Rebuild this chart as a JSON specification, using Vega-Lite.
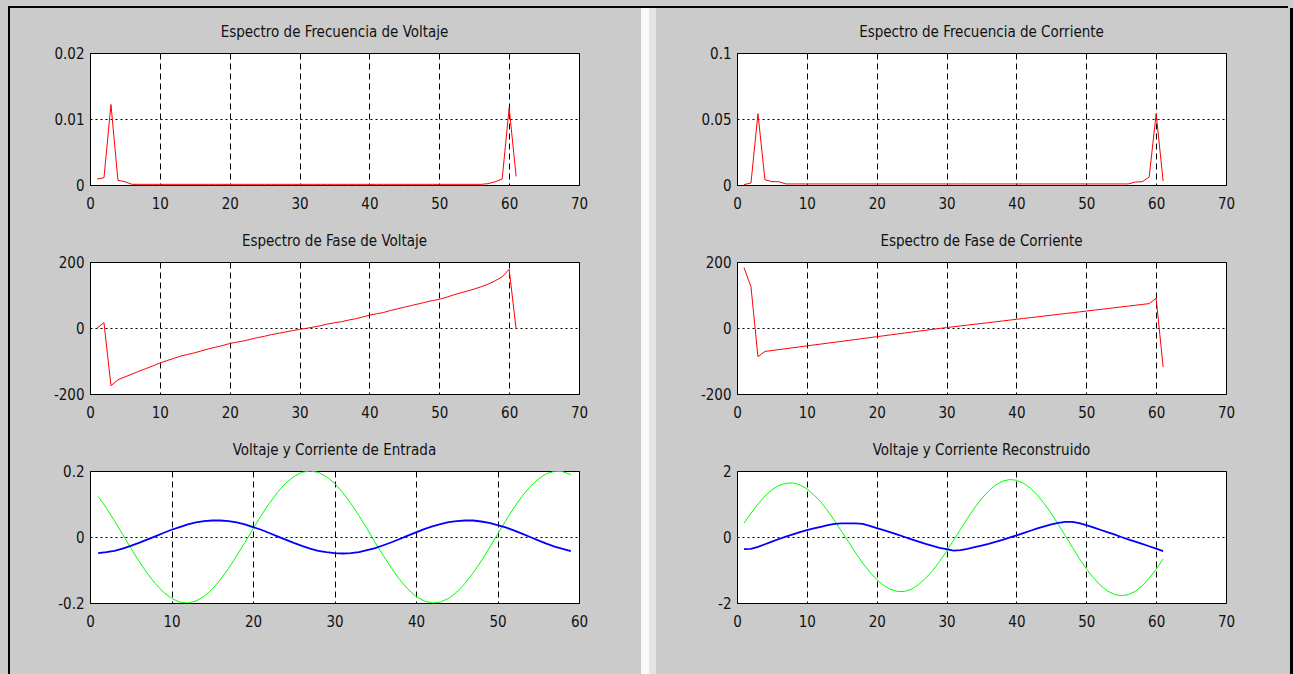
{
  "$schema": "https://vega.github.io/schema/vega-lite/v6.json",
  "background": "#CBCBCB",
  "padding": {"left": 8, "top": 6, "right": 5, "bottom": 0},
  "autosize": {"type": "pad"},
  "config": {
    "font": "DejaVu Sans Condensed, Liberation Sans, sans-serif",
    "view": {"stroke": "#000000", "strokeWidth": 1, "fill": "#FFFFFF"},
    "axis": {"grid": true, "gridColor": "#000000", "gridOpacity": 1, "gridWidth": 1, "domain": false, "ticks": false, "labelFont": "DejaVu Sans Condensed, Liberation Sans, sans-serif", "labelFontSize": 15, "labelColor": "#111111", "labelFlush": false, "title": null, "labelExpr": "'' + datum.value"},
    "axisX": {"gridDash": [6, 4], "labelPadding": 11},
    "axisY": {"gridDash": [2, 3], "labelPadding": 6},
    "title": {"fontSize": 15, "fontWeight": "normal", "font": "DejaVu Sans Condensed, Liberation Sans, sans-serif", "color": "#111111", "offset": 6, "frame": "group", "anchor": "middle"}
  },
  "datasets": {
    "fv": [
      {"x":1,"y":0.0009},{"x":2,"y":0.0011},{"x":3,"y":0.0122},{"x":4,"y":0.0007},{"x":5,"y":0.0005},{"x":6,"y":0.0001},{"x":7,"y":0.0001},{"x":8,"y":0.0001},{"x":9,"y":0.0001},{"x":10,"y":0.0001},
      {"x":11,"y":0.0001},{"x":12,"y":0.0001},{"x":13,"y":0.0001},{"x":14,"y":0.0001},{"x":15,"y":0.0001},{"x":16,"y":0.0001},{"x":17,"y":0.0001},{"x":18,"y":0.0001},{"x":19,"y":0.0001},{"x":20,"y":0.0001},
      {"x":21,"y":0.0001},{"x":22,"y":0.0001},{"x":23,"y":0.0001},{"x":24,"y":0.0001},{"x":25,"y":0.0001},{"x":26,"y":0.0001},{"x":27,"y":0.0001},{"x":28,"y":0.0001},{"x":29,"y":0.0001},{"x":30,"y":0.0001},
      {"x":31,"y":0.0001},{"x":32,"y":0.0001},{"x":33,"y":0.0001},{"x":34,"y":0.0001},{"x":35,"y":0.0001},{"x":36,"y":0.0001},{"x":37,"y":0.0001},{"x":38,"y":0.0001},{"x":39,"y":0.0001},{"x":40,"y":0.0001},
      {"x":41,"y":0.0001},{"x":42,"y":0.0001},{"x":43,"y":0.0001},{"x":44,"y":0.0001},{"x":45,"y":0.0001},{"x":46,"y":0.0001},{"x":47,"y":0.0001},{"x":48,"y":0.0001},{"x":49,"y":0.0001},{"x":50,"y":0.0001},
      {"x":51,"y":0.0001},{"x":52,"y":0.0001},{"x":53,"y":0.0001},{"x":54,"y":0.0001},{"x":55,"y":0.0001},{"x":56,"y":0.0001},{"x":57,"y":0.0002},{"x":58,"y":0.0005},{"x":59,"y":0.0009},{"x":60,"y":0.0117},
      {"x":61,"y":0.0013}
    ],
    "fi": [
      {"x":1,"y":0.0003},{"x":2,"y":0.0015},{"x":3,"y":0.054},{"x":4,"y":0.004},{"x":5,"y":0.0025},{"x":6,"y":0.0025},{"x":7,"y":0.0008},{"x":8,"y":0.0008},{"x":9,"y":0.0008},{"x":10,"y":0.0008},
      {"x":11,"y":0.0008},{"x":12,"y":0.0008},{"x":13,"y":0.0008},{"x":14,"y":0.0008},{"x":15,"y":0.0008},{"x":16,"y":0.0008},{"x":17,"y":0.0008},{"x":18,"y":0.0008},{"x":19,"y":0.0008},{"x":20,"y":0.0008},
      {"x":21,"y":0.0008},{"x":22,"y":0.0008},{"x":23,"y":0.0008},{"x":24,"y":0.0008},{"x":25,"y":0.0008},{"x":26,"y":0.0008},{"x":27,"y":0.0008},{"x":28,"y":0.0008},{"x":29,"y":0.0008},{"x":30,"y":0.0008},
      {"x":31,"y":0.0008},{"x":32,"y":0.0008},{"x":33,"y":0.0008},{"x":34,"y":0.0008},{"x":35,"y":0.0008},{"x":36,"y":0.0008},{"x":37,"y":0.0008},{"x":38,"y":0.0008},{"x":39,"y":0.0008},{"x":40,"y":0.0008},
      {"x":41,"y":0.0008},{"x":42,"y":0.0008},{"x":43,"y":0.0008},{"x":44,"y":0.0008},{"x":45,"y":0.0008},{"x":46,"y":0.0008},{"x":47,"y":0.0008},{"x":48,"y":0.0008},{"x":49,"y":0.0008},{"x":50,"y":0.0008},
      {"x":51,"y":0.0008},{"x":52,"y":0.0008},{"x":53,"y":0.0008},{"x":54,"y":0.0008},{"x":55,"y":0.0008},{"x":56,"y":0.0008},{"x":57,"y":0.0022},{"x":58,"y":0.0025},{"x":59,"y":0.006},{"x":60,"y":0.054},
      {"x":61,"y":0.003}
    ],
    "pv": [
      {"x":1,"y":0},{"x":2,"y":16},{"x":3,"y":-175},{"x":4,"y":-157},{"x":5,"y":-148},{"x":6,"y":-140},{"x":7,"y":-131},{"x":8,"y":-123},{"x":9,"y":-115},{"x":10,"y":-106},
      {"x":11,"y":-99},{"x":12,"y":-92},{"x":13,"y":-85},{"x":14,"y":-80},{"x":15,"y":-75},{"x":16,"y":-69},{"x":17,"y":-63},{"x":18,"y":-58},{"x":19,"y":-53},{"x":20,"y":-47},
      {"x":21,"y":-43},{"x":22,"y":-39},{"x":23,"y":-34},{"x":24,"y":-29},{"x":25,"y":-25},{"x":26,"y":-20},{"x":27,"y":-16},{"x":28,"y":-12},{"x":29,"y":-8},{"x":30,"y":-4},
      {"x":31,"y":-1},{"x":32,"y":3},{"x":33,"y":7},{"x":34,"y":12},{"x":35,"y":16},{"x":36,"y":19},{"x":37,"y":24},{"x":38,"y":28},{"x":39,"y":33},{"x":40,"y":39},
      {"x":41,"y":43},{"x":42,"y":47},{"x":43,"y":53},{"x":44,"y":58},{"x":45,"y":63},{"x":46,"y":68},{"x":47,"y":73},{"x":48,"y":78},{"x":49,"y":83},{"x":50,"y":87},
      {"x":51,"y":93},{"x":52,"y":100},{"x":53,"y":106},{"x":54,"y":112},{"x":55,"y":118},{"x":56,"y":125},{"x":57,"y":133},{"x":58,"y":143},{"x":59,"y":155},{"x":60,"y":178},
      {"x":61,"y":-3}
    ],
    "pi": [
      {"x":1,"y":183},{"x":2,"y":125},{"x":3,"y":-87},{"x":4,"y":-71},{"x":5,"y":-68.2},{"x":6,"y":-65.4},{"x":7,"y":-62.6},{"x":8,"y":-59.9},{"x":9,"y":-57.1},{"x":10,"y":-54.3},
      {"x":11,"y":-51.5},{"x":12,"y":-48.7},{"x":13,"y":-45.9},{"x":14,"y":-43.1},{"x":15,"y":-40.3},{"x":16,"y":-37.5},{"x":17,"y":-34.8},{"x":18,"y":-32},{"x":19,"y":-29.2},{"x":20,"y":-26.4},
      {"x":21,"y":-23.6},{"x":22,"y":-20.8},{"x":23,"y":-18.1},{"x":24,"y":-15.3},{"x":25,"y":-12.5},{"x":26,"y":-9.7},{"x":27,"y":-7},{"x":28,"y":-4.2},{"x":29,"y":-1.4},{"x":30,"y":1.3},
      {"x":31,"y":3.8},{"x":32,"y":6.3},{"x":33,"y":8.8},{"x":34,"y":11.3},{"x":35,"y":13.8},{"x":36,"y":16.3},{"x":37,"y":18.8},{"x":38,"y":21.3},{"x":39,"y":23.8},{"x":40,"y":26.3},
      {"x":41,"y":28.8},{"x":42,"y":31.3},{"x":43,"y":33.8},{"x":44,"y":36.3},{"x":45,"y":38.8},{"x":46,"y":41.3},{"x":47,"y":43.8},{"x":48,"y":46.3},{"x":49,"y":48.8},{"x":50,"y":51.3},
      {"x":51,"y":53.8},{"x":52,"y":56.3},{"x":53,"y":58.8},{"x":54,"y":61.3},{"x":55,"y":63.8},{"x":56,"y":66.3},{"x":57,"y":68.8},{"x":58,"y":71.3},{"x":59,"y":74},{"x":60,"y":90},
      {"x":61,"y":-118}
    ],
    "entrada": [
      {"x":1,"v":0.123,"i":-0.049},{"x":2,"v":0.088,"i":-0.046},{"x":3,"v":0.049,"i":-0.042},{"x":4,"v":0.008,"i":-0.035},{"x":5,"v":-0.033,"i":-0.027},
      {"x":6,"v":-0.073,"i":-0.018},{"x":7,"v":-0.109,"i":-0.008},{"x":8,"v":-0.141,"i":0.002},{"x":9,"v":-0.167,"i":0.012},{"x":10,"v":-0.186,"i":0.022},
      {"x":11,"v":-0.197,"i":0.030},{"x":12,"v":-0.200,"i":0.038},{"x":13,"v":-0.194,"i":0.044},{"x":14,"v":-0.180,"i":0.048},{"x":15,"v":-0.158,"i":0.050},
      {"x":16,"v":-0.129,"i":0.050},{"x":17,"v":-0.095,"i":0.048},{"x":18,"v":-0.057,"i":0.044},{"x":19,"v":-0.017,"i":0.038},{"x":20,"v":0.025,"i":0.030},
      {"x":21,"v":0.065,"i":0.022},{"x":22,"v":0.102,"i":0.012},{"x":23,"v":0.135,"i":0.002},{"x":24,"v":0.163,"i":-0.008},{"x":25,"v":0.183,"i":-0.018},
      {"x":26,"v":0.196,"i":-0.027},{"x":27,"v":0.200,"i":-0.035},{"x":28,"v":0.196,"i":-0.042},{"x":29,"v":0.183,"i":-0.046},{"x":30,"v":0.163,"i":-0.049},
      {"x":31,"v":0.135,"i":-0.050},{"x":32,"v":0.102,"i":-0.049},{"x":33,"v":0.065,"i":-0.046},{"x":34,"v":0.025,"i":-0.040},{"x":35,"v":-0.017,"i":-0.034},
      {"x":36,"v":-0.057,"i":-0.025},{"x":37,"v":-0.095,"i":-0.016},{"x":38,"v":-0.129,"i":-0.006},{"x":39,"v":-0.158,"i":0.004},{"x":40,"v":-0.180,"i":0.014},
      {"x":41,"v":-0.194,"i":0.024},{"x":42,"v":-0.200,"i":0.032},{"x":43,"v":-0.197,"i":0.039},{"x":44,"v":-0.186,"i":0.045},{"x":45,"v":-0.167,"i":0.048},
      {"x":46,"v":-0.141,"i":0.050},{"x":47,"v":-0.109,"i":0.050},{"x":48,"v":-0.073,"i":0.047},{"x":49,"v":-0.033,"i":0.043},{"x":50,"v":0.008,"i":0.036},
      {"x":51,"v":0.049,"i":0.029},{"x":52,"v":0.088,"i":0.020},{"x":53,"v":0.123,"i":0.010},{"x":54,"v":0.153,"i":0.000},{"x":55,"v":0.176,"i":-0.010},
      {"x":56,"v":0.192,"i":-0.020},{"x":57,"v":0.199,"i":-0.029},{"x":58,"v":0.198,"i":-0.036},{"x":59,"v":0.189,"i":-0.043}
    ],
    "recon": [
      {"x":1,"v":0.42,"i":-0.37},{"x":2,"v":0.72,"i":-0.36},{"x":3,"v":1.00,"i":-0.30},{"x":4,"v":1.24,"i":-0.22},{"x":5,"v":1.43,"i":-0.14},
      {"x":6,"v":1.56,"i":-0.06},{"x":7,"v":1.63,"i":0.01},{"x":8,"v":1.64,"i":0.08},{"x":9,"v":1.58,"i":0.15},{"x":10,"v":1.46,"i":0.21},
      {"x":11,"v":1.28,"i":0.26},{"x":12,"v":1.06,"i":0.31},{"x":13,"v":0.79,"i":0.36},{"x":14,"v":0.48,"i":0.40},{"x":15,"v":0.16,"i":0.41},
      {"x":16,"v":-0.16,"i":0.41},{"x":17,"v":-0.49,"i":0.41},{"x":18,"v":-0.79,"i":0.40},{"x":19,"v":-1.06,"i":0.34},{"x":20,"v":-1.29,"i":0.27},
      {"x":21,"v":-1.47,"i":0.21},{"x":22,"v":-1.59,"i":0.14},{"x":23,"v":-1.65,"i":0.07},{"x":24,"v":-1.65,"i":0.00},{"x":25,"v":-1.58,"i":-0.07},
      {"x":26,"v":-1.44,"i":-0.14},{"x":27,"v":-1.25,"i":-0.21},{"x":28,"v":-1.02,"i":-0.27},{"x":29,"v":-0.74,"i":-0.33},{"x":30,"v":-0.43,"i":-0.37},
      {"x":31,"v":-0.10,"i":-0.41},{"x":32,"v":0.23,"i":-0.40},{"x":33,"v":0.57,"i":-0.36},{"x":34,"v":0.88,"i":-0.31},{"x":35,"v":1.16,"i":-0.26},
      {"x":36,"v":1.39,"i":-0.21},{"x":37,"v":1.57,"i":-0.15},{"x":38,"v":1.69,"i":-0.09},{"x":39,"v":1.74,"i":-0.02},{"x":40,"v":1.72,"i":0.05},
      {"x":41,"v":1.63,"i":0.12},{"x":42,"v":1.48,"i":0.19},{"x":43,"v":1.27,"i":0.26},{"x":44,"v":1.01,"i":0.32},{"x":45,"v":0.71,"i":0.38},
      {"x":46,"v":0.38,"i":0.43},{"x":47,"v":0.04,"i":0.46},{"x":48,"v":-0.31,"i":0.46},{"x":49,"v":-0.65,"i":0.42},{"x":50,"v":-0.96,"i":0.36},
      {"x":51,"v":-1.23,"i":0.29},{"x":52,"v":-1.46,"i":0.22},{"x":53,"v":-1.63,"i":0.15},{"x":54,"v":-1.74,"i":0.08},{"x":55,"v":-1.78,"i":0.00},
      {"x":56,"v":-1.75,"i":-0.07},{"x":57,"v":-1.65,"i":-0.14},{"x":58,"v":-1.48,"i":-0.21},{"x":59,"v":-1.25,"i":-0.28},{"x":60,"v":-0.98,"i":-0.35},
      {"x":61,"v":-0.66,"i":-0.43}
    ]
  },
  "spacing": 0,
  "vconcat": [
    {"width": 1280, "height": 2, "view": {"fill": "#000000", "stroke": null}, "data": {"values": []}, "mark": {"type": "point", "opacity": 0}, "encoding": {}},
    {
      "spacing": 42,
      "hconcat": [
        {"width": 2, "height": 666, "view": {"fill": "#000000", "stroke": null}, "data": {"values": []}, "mark": {"type": "point", "opacity": 0}, "encoding": {}},
        {
          "spacing": 52,
          "hconcat": [
            {
              "spacing": 15,
              "vconcat": [
                {"width": 489, "height": 1, "view": {"fill": "#CBCBCB", "stroke": null}, "data": {"values": []}, "mark": {"type": "point", "opacity": 0}, "encoding": {}},
                {
                  "spacing": 77,
                  "bounds": "flush",
                  "vconcat": [
                    {
                      "width": 489, "height": 132,
                      "title": "Espectro de Frecuencia de Voltaje",
                      "data": {"name": "fv"},
                      "mark": {"type": "line", "color": "#FF0000", "strokeWidth": 1, "clip": true},
                      "encoding": {
                        "x": {"field": "x", "type": "quantitative", "scale": {"domain": [0, 70], "nice": false}, "axis": {"values": [0,10,20,30,40,50,60,70]}},
                        "y": {"field": "y", "type": "quantitative", "scale": {"domain": [0, 0.02], "nice": false, "zero": false}, "axis": {"values": [0, 0.01, 0.02]}}
                      }
                    },
                    {
                      "width": 489, "height": 132,
                      "title": "Espectro de Fase de Voltaje",
                      "data": {"name": "pv"},
                      "mark": {"type": "line", "color": "#FF0000", "strokeWidth": 1, "clip": true},
                      "encoding": {
                        "x": {"field": "x", "type": "quantitative", "scale": {"domain": [0, 70], "nice": false}, "axis": {"values": [0,10,20,30,40,50,60,70]}},
                        "y": {"field": "y", "type": "quantitative", "scale": {"domain": [-200, 200], "nice": false, "zero": false}, "axis": {"values": [-200, 0, 200]}}
                      }
                    },
                    {
                      "width": 489, "height": 132,
                      "title": "Voltaje y Corriente de Entrada",
                      "data": {"name": "entrada"},
                      "encoding": {
                        "x": {"field": "x", "type": "quantitative", "scale": {"domain": [0, 60], "nice": false}, "axis": {"values": [0,10,20,30,40,50,60]}}
                      },
                      "layer": [
                        {
                          "mark": {"type": "line", "color": "#00FF00", "strokeWidth": 1, "clip": true},
                          "encoding": {"y": {"field": "v", "type": "quantitative", "scale": {"domain": [-0.2, 0.2], "nice": false, "zero": false}, "axis": {"values": [-0.2, 0, 0.2]}}}
                        },
                        {
                          "mark": {"type": "line", "color": "#0000FF", "strokeWidth": 1.8, "clip": true},
                          "encoding": {"y": {"field": "i", "type": "quantitative"}}
                        }
                      ]
                    }
                  ]
                }
              ]
            },
            {
              "spacing": 43,
              "hconcat": [
                {
                  "spacing": 0,
                  "hconcat": [
                    {"width": 8, "height": 666, "view": {"fill": "#FAFAFA", "stroke": null}, "data": {"values": []}, "mark": {"type": "point", "opacity": 0}, "encoding": {}},
                    {"width": 7, "height": 666, "view": {"fill": "#E4E4E4", "stroke": null}, "data": {"values": []}, "mark": {"type": "point", "opacity": 0}, "encoding": {}}
                  ]
                },
                {
                  "spacing": 54,
                  "hconcat": [
                    {
                      "spacing": 15,
                      "vconcat": [
                        {"width": 489, "height": 1, "view": {"fill": "#CBCBCB", "stroke": null}, "data": {"values": []}, "mark": {"type": "point", "opacity": 0}, "encoding": {}},
                        {
                          "spacing": 77,
                          "bounds": "flush",
                          "vconcat": [
                            {
                              "width": 489, "height": 132,
                              "title": "Espectro de Frecuencia de Corriente",
                              "data": {"name": "fi"},
                              "mark": {"type": "line", "color": "#FF0000", "strokeWidth": 1, "clip": true},
                              "encoding": {
                                "x": {"field": "x", "type": "quantitative", "scale": {"domain": [0, 70], "nice": false}, "axis": {"values": [0,10,20,30,40,50,60,70]}},
                                "y": {"field": "y", "type": "quantitative", "scale": {"domain": [0, 0.1], "nice": false, "zero": false}, "axis": {"values": [0, 0.05, 0.1]}}
                              }
                            },
                            {
                              "width": 489, "height": 132,
                              "title": "Espectro de Fase de Corriente",
                              "data": {"name": "pi"},
                              "mark": {"type": "line", "color": "#FF0000", "strokeWidth": 1, "clip": true},
                              "encoding": {
                                "x": {"field": "x", "type": "quantitative", "scale": {"domain": [0, 70], "nice": false}, "axis": {"values": [0,10,20,30,40,50,60,70]}},
                                "y": {"field": "y", "type": "quantitative", "scale": {"domain": [-200, 200], "nice": false, "zero": false}, "axis": {"values": [-200, 0, 200]}}
                              }
                            },
                            {
                              "width": 489, "height": 132,
                              "title": "Voltaje y Corriente Reconstruido",
                              "data": {"name": "recon"},
                              "encoding": {
                                "x": {"field": "x", "type": "quantitative", "scale": {"domain": [0, 70], "nice": false}, "axis": {"values": [0,10,20,30,40,50,60,70]}}
                              },
                              "layer": [
                                {
                                  "mark": {"type": "line", "color": "#00FF00", "strokeWidth": 1, "clip": true},
                                  "encoding": {"y": {"field": "v", "type": "quantitative", "scale": {"domain": [-2, 2], "nice": false, "zero": false}, "axis": {"values": [-2, 0, 2]}}}
                                },
                                {
                                  "mark": {"type": "line", "color": "#0000FF", "strokeWidth": 1.8, "clip": true},
                                  "encoding": {"y": {"field": "i", "type": "quantitative"}}
                                }
                              ]
                            }
                          ]
                        }
                      ]
                    },
                    {"width": 3, "height": 666, "view": {"fill": "#000000", "stroke": null}, "data": {"values": []}, "mark": {"type": "point", "opacity": 0}, "encoding": {}}
                  ]
                }
              ]
            }
          ]
        }
      ]
    }
  ]
}
